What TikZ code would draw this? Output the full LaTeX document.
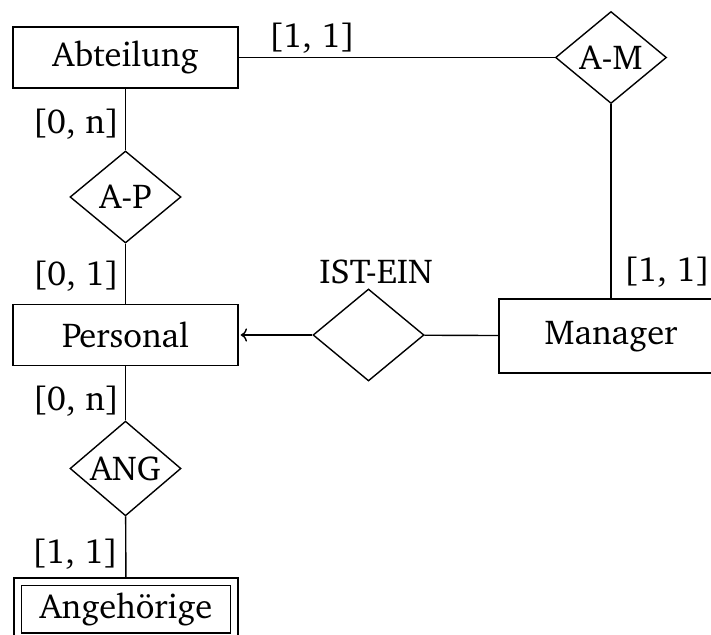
\documentclass[tikz,border=0pt]{standalone}
\usepackage[T1]{fontenc}
\usepackage{charter}
\usetikzlibrary{shapes.geometric,arrows.meta}

\begin{document}
\begin{tikzpicture}[x=0.5pt, y=-0.5pt,
    entity/.style={draw, line width=0.7pt, rectangle, font=\LARGE, minimum width=112.5pt, minimum height=30.5pt, inner sep=0pt},
    weakentity/.style={entity, double, double distance=3pt, minimum width=108.25pt, minimum height=27.5pt},
    relation/.style={draw, line width=0.7pt, diamond, font=\LARGE, minimum width=55.5pt, minimum height=46pt, inner sep=0pt},
    card/.style={font=\LARGE, inner sep=0pt},
    conn/.style={line width=0.7pt}
]
    \useasboundingbox (0,0) rectangle (711,635);

    % entities
    \node[entity] (abt) at (125.5,57.5) {Abteilung};
    \node[entity] (pers) at (125.5,335) {Personal};
    \node[entity, minimum width=112pt, minimum height=37pt] (mgr) at (611,336) {Manager};
    \node[weakentity] (angh) at (126,609) {Angeh\"orige};

    % relationships
    \node[relation] (am) at (611,57.5) {A-M};
    \node[relation] (ap) at (125.5,197) {A-P};
    \node[relation] (ist) at (368.5,335) {};
    \node[relation] (ang) at (125.5,468.5) {ANG};

    % texts
    \node[card] (istlabel) at (376,271.5) {IST-EIN};
    \node[card] (cAbtAM) at (312,38) {[1, 1]};
    \node[card] (cMgrAM) at (667,272.5) {[1, 1]};
    \node[card] (cAbtAP) at (76,124) {[0, n]};
    \node[card] (cPersAP) at (76,276) {[0, 1]};
    \node[card] (cPersANG) at (76,401) {[0, n]};
    \node[card] (cAnghANG) at (75,554) {[1, 1]};

    % connectors
    \draw[conn] (abt) -- (am);
    \draw[conn] (am.south) -- (am.south |- mgr.north);
    \draw[conn] (abt) -- (ap);
    \draw[conn] (ap) -- (pers);
    \draw[conn] (pers) -- (ang);
    \draw[conn, shorten >=2pt] (ang) -- (angh);
    \draw[conn] (mgr) -- (ist);
    \draw[conn, ->, shorten >=1pt] (ist) -- (pers);
\end{tikzpicture}
\end{document}
